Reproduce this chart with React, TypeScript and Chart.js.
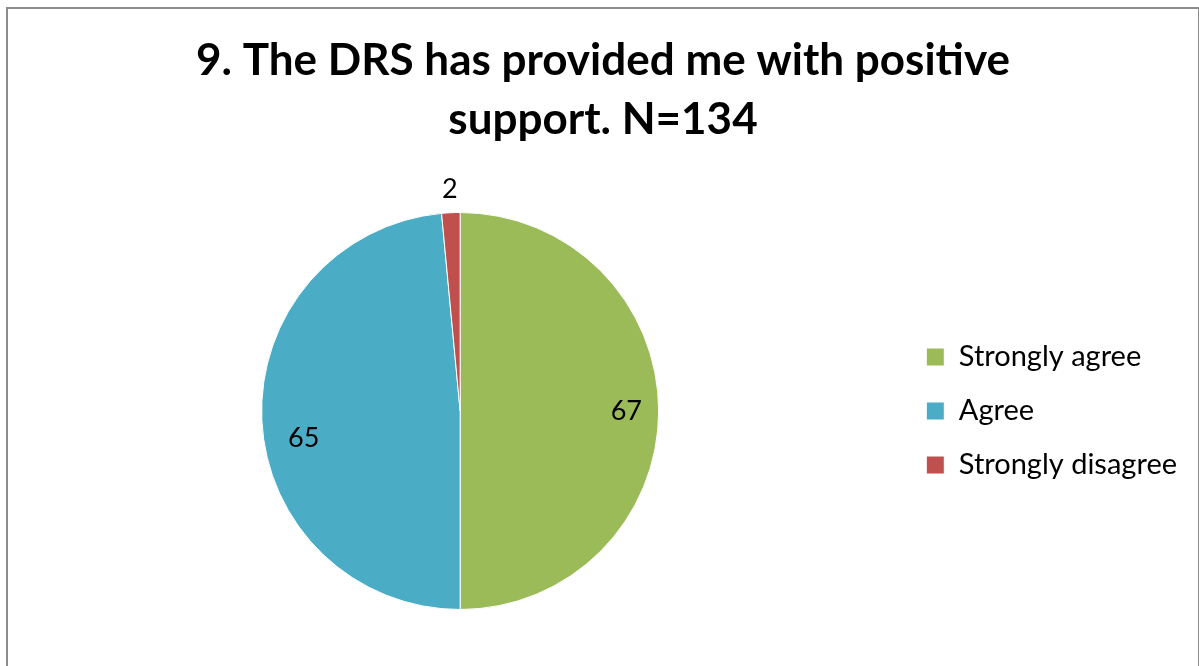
import React, { useEffect, useRef } from "react";
import { Chart, registerables } from "chart.js";

Chart.register(...registerables);

const TITLE_LINES = ["9. The DRS has provided me with positive", "support. N=134"];
const CATEGORIES = ["Strongly agree", "Agree", "Strongly disagree"];
const VALUES = [67, 65, 2];
const COLORS = ["#9BBB59", "#4BACC6", "#C0504D"];

// label placement (fraction of radius, angle offset in degrees)
const LABEL_RADIUS = [0.837, 0.8, 1.12];
const LABEL_ANGLE_OFFSET = [0, -7.1, 0];

const FONT = "Lato, 'Open Sans', sans-serif";

const sliceLabels = {
  id: "sliceLabels",
  afterDatasetsDraw(chart: any) {
    const meta = chart.getDatasetMeta(0);
    const ctx = chart.ctx;
    ctx.save();
    ctx.font = `27px ${FONT}`;
    ctx.fillStyle = "#000";
    ctx.textAlign = "center";
    ctx.textBaseline = "middle";
    meta.data.forEach((arc: any, i: number) => {
      const p = arc.getProps(["x", "y", "startAngle", "endAngle", "outerRadius"], true);
      const mid = (p.startAngle + p.endAngle) / 2 + (LABEL_ANGLE_OFFSET[i] * Math.PI) / 180;
      const d = p.outerRadius * LABEL_RADIUS[i];
      ctx.fillText(String(chart.data.datasets[0].data[i]), p.x + Math.cos(mid) * d, p.y + Math.sin(mid) * d);
    });
    ctx.restore();
  },
};

export default function App() {
  const ref = useRef<HTMLCanvasElement>(null);
  useEffect(() => {
    if (!ref.current) return;
    const chart = new Chart(ref.current, {
      type: "pie",
      data: {
        labels: CATEGORIES,
        datasets: [
          {
            data: VALUES,
            backgroundColor: COLORS,
            borderColor: "#ffffff",
            borderWidth: 1,
          },
        ],
      },
      options: {
        responsive: false,
        animation: false,
        layout: { padding: { left: 11, right: 11, top: 0, bottom: 59 } },
        plugins: {
          title: {
            display: true,
            text: TITLE_LINES,
            color: "#000",
            font: { family: FONT, size: 44, weight: "bold", lineHeight: "59px" },
            padding: { top: 22, bottom: 63 },
          },
          legend: {
            display: true,
            position: "right",
            align: "center",
            fullSize: false,
            labels: {
              color: "#000",
              font: { family: FONT, size: 29 },
              boxWidth: 18,
              boxHeight: 18,
              padding: 25,
            },
          },
          tooltip: { enabled: false },
        },
      },
      plugins: [sliceLabels],
    });
    return () => chart.destroy();
  }, []);
  return (
    <div
      style={{
        position: "absolute",
        left: 6,
        top: 7,
        width: 1190,
        height: 700,
        border: "2px solid #8c8c8c",
        background: "#fff",
      }}
    >
      <canvas ref={ref} width={1190} height={660} style={{ display: "block" }} />
    </div>
  );
}
